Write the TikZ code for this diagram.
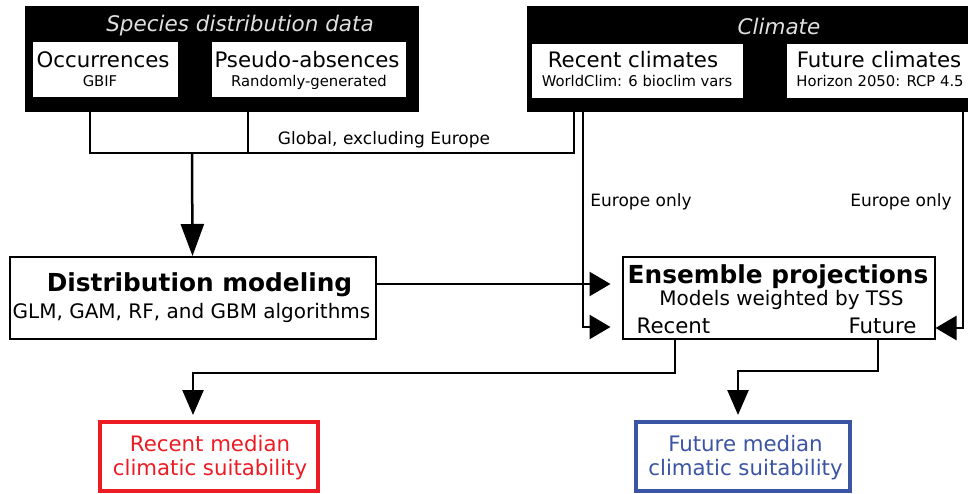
\documentclass[tikz,border=0pt]{standalone}
\usepackage{fontspec}
\setmainfont{DejaVu Sans}
\usetikzlibrary{arrows.meta}
\definecolor{suitred}{RGB}{237,28,36}
\definecolor{suitblue}{RGB}{60,84,164}
\newcommand{\setfs}[1]{\fontsize{#1pt}{#1pt}\selectfont}
\begin{document}
\begin{tikzpicture}[x=1pt,y=-1pt,
  panel/.style={fill=black, draw=none, inner sep=0pt},
  whitebox/.style={fill=white, draw=none, inner sep=0pt},
  framebox/.style={draw=black, line width=2pt, fill=white, inner sep=0pt},
  resultbox/.style={draw=#1, line width=4pt, fill=white, inner sep=0pt},
  txt/.style={anchor=base, inner sep=0pt},
  paneltitle/.style={txt, text=white!88!black, font=\setfs{21.5}\itshape},
  bigtxt/.style={txt, font=\setfs{21.3}},
  smalltxt/.style={txt, font=\setfs{14.8}},
  boldtxt/.style={txt, font=\setfs{24.8}\bfseries},
  midtxt/.style={txt, font=\setfs{20}},
  wiretxt/.style={txt, font=\setfs{17}},
  wire/.style={draw=black, line width=2.5pt},
  tipdown/.style={wire, -{Triangle[length=32pt,width=23pt]}},
  tipside/.style={wire, -{Triangle[length=21pt,width=24pt]}},
  tipout/.style={wire, -{Triangle[length=25pt,width=21pt]}}]
\clip (0,0) rectangle (968,494);
\fill[white] (0,0) rectangle (968,494);

% --- input panels ---
\node[panel, minimum width=394pt, minimum height=106pt] (sdd) at (222,59) {};
\node[paneltitle] (sddT) at (240,32) {Species distribution data};
\node[whitebox, minimum width=145pt, minimum height=55pt] (occ) at (105.5,69.5) {};
\node[bigtxt] (occT) at (103,68) {Occurrences};
\node[smalltxt] (occS) at (100,87) {GBIF};
\node[whitebox, minimum width=194pt, minimum height=55pt] (pa) at (309,69.5) {};
\node[bigtxt] (paT) at (307,68) {Pseudo-absences};
\node[smalltxt] (paS) at (309,87) {Randomly-generated};

\node[panel, minimum width=448pt, minimum height=106pt] (clim) at (751,59) {};
\node[paneltitle] (climT) at (779,35) {Climate};
\node[whitebox, minimum width=211pt, minimum height=54pt] (rc) at (637.5,71) {};
\node[bigtxt] (rcT) at (633,68) {Recent climates};
\node[smalltxt] (rcS) at (637,87) {WorldClim: 6 bioclim vars};
\node[whitebox, minimum width=188pt, minimum height=54pt] (fc) at (881,71) {};
\node[bigtxt] (fcT) at (879,68) {Future climates};
\node[smalltxt] (fcS) at (880,87) {Horizon 2050: RCP 4.5};

% --- modelling boxes ---
\node[framebox, minimum width=366pt, minimum height=82pt] (dm) at (192.5,298) {};
\node[boldtxt] (dmT) at (199.5,291.5) {Distribution modeling};
\node[midtxt] (dmS) at (191.5,318) {GLM, GAM, RF, and GBM algorithms};

\node[framebox, minimum width=312pt, minimum height=82pt] (ens) at (778.5,298) {};
\node[boldtxt] (ensT) at (778,283) {Ensemble projections};
\node[midtxt] (ensS) at (781.5,305) {Models weighted by TSS};
\node[bigtxt] (ensR) at (673.5,333) {Recent};
\node[bigtxt] (ensF) at (882.5,333) {Future};

% --- outputs ---
\node[resultbox=suitred, minimum width=218pt, minimum height=69pt] (red) at (209,456.5) {};
\node[bigtxt, text=suitred] (redA) at (210,451.5) {Recent median};
\node[bigtxt, text=suitred] (redB) at (210,475) {climatic suitability};
\node[resultbox=suitblue, minimum width=214pt, minimum height=69pt] (blue) at (743,456.5) {};
\node[bigtxt, text=suitblue] (blueA) at (745.5,451.5) {Future median};
\node[bigtxt, text=suitblue] (blueB) at (745.5,475) {climatic suitability};

% --- connectors ---
\draw[wire] ([xshift=-15.5pt]occ.south) -- ++(0,56) -| ([xshift=-63.5pt]rc.south);
\draw[wire] ([xshift=-61pt]pa.south) -- ++(0,56);
\node[wiretxt] (glob) at (384,145) {Global, excluding Europe};
\coordinate (merge) at (192,153);
\draw[tipdown] (merge) -- (dm.north);

\draw[tipside, shorten >=11pt] ([yshift=14pt]dm.east) -- ([yshift=14pt]ens.west);
\draw[tipside, shorten >=11pt] ([xshift=-168pt]clim.south) |- ([yshift=-29pt]ens.west);
\draw[tipside] ([xshift=212pt]clim.south) |- ([yshift=-30pt]ens.east);
\node[wiretxt] (eurL) at (641,206.5) {Europe only};
\node[wiretxt] (eurR) at (901,206.5) {Europe only};

\draw[tipout, shorten >=5pt] ([xshift=-103.5pt]ens.south) -- ++(0,33) -| ([xshift=-16pt]red.north);
\draw[tipout, shorten >=5pt] ([xshift=99.5pt]ens.south) -- ++(0,31) -| ([xshift=-5pt]blue.north);
\end{tikzpicture}
\end{document}
